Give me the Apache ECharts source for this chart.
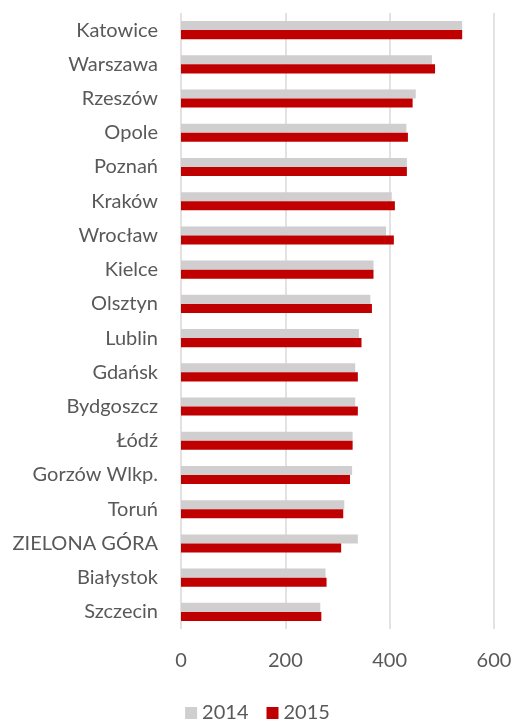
<!DOCTYPE html>
<html>
<head>
<meta charset="utf-8">
<script src="https://cdn.jsdelivr.net/npm/echarts@6/dist/echarts.min.js"></script>
<style>
  html, body { margin: 0; padding: 0; background: #fff; }
  #chart { width: 515px; height: 723px; }
</style>
</head>
<body>
<div id="chart"></div>
<script>
// miasta, od góry do dołu
const cities = [
  'Katowice', 'Warszawa', 'Rzeszów', 'Opole', 'Poznań', 'Kraków',
  'Wrocław', 'Kielce', 'Olsztyn', 'Lublin', 'Gdańsk', 'Bydgoszcz',
  'Łódź', 'Gorzów Wlkp.', 'Toruń', 'ZIELONA GÓRA', 'Białystok', 'Szczecin'
]

const values2014 = [539, 481, 450, 432, 433, 404, 393, 369, 363, 341, 334, 334, 329, 328, 313, 339, 277, 267]
const values2015 = [539, 487, 444, 435, 433, 410, 408, 369, 366, 346, 339, 339, 329, 324, 311, 307, 279, 269]

const xTicks = [0, 200, 400, 600]

const chart = echarts.init(document.getElementById('chart'))

const option = {
  animation: false,
  textStyle: { fontFamily: 'Lato' },
  grid: {
    left: 181,
    right: 21,
    top: 13,
    bottom: 94
  },
  legend: {
    bottom: 0,
    left: 'center',
    padding: [0, 5],
    itemWidth: 12,
    itemHeight: 12,
    itemGap: 18,
    icon: 'rect',
    textStyle: { fontSize: 20, color: '#595959', fontFamily: 'Lato' },
    data: ['2014', '2015']
  },
  xAxis: {
    type: 'value',
    min: xTicks[0],
    max: xTicks[xTicks.length - 1],
    interval: 200,
    axisLine: { show: false },
    axisTick: { show: false },
    axisLabel: { fontSize: 20, color: '#595959', margin: 22 },
    splitLine: { lineStyle: { color: '#d9d9d9', width: 1.5 } }
  },
  yAxis: {
    type: 'category',
    inverse: true,
    data: cities,
    axisLine: { show: false },
    axisTick: { show: false },
    axisLabel: { fontSize: 20, color: '#595959', margin: 23 }
  },
  series: [
    {
      name: '2014',
      type: 'bar',
      data: values2014,
      barGap: '0%',
      barCategoryGap: '47%',
      itemStyle: { color: '#d0cece' }
    },
    {
      name: '2015',
      type: 'bar',
      data: values2015,
      itemStyle: { color: '#c00000' }
    }
  ]
}

chart.setOption(option)
</script>
</body>
</html>
